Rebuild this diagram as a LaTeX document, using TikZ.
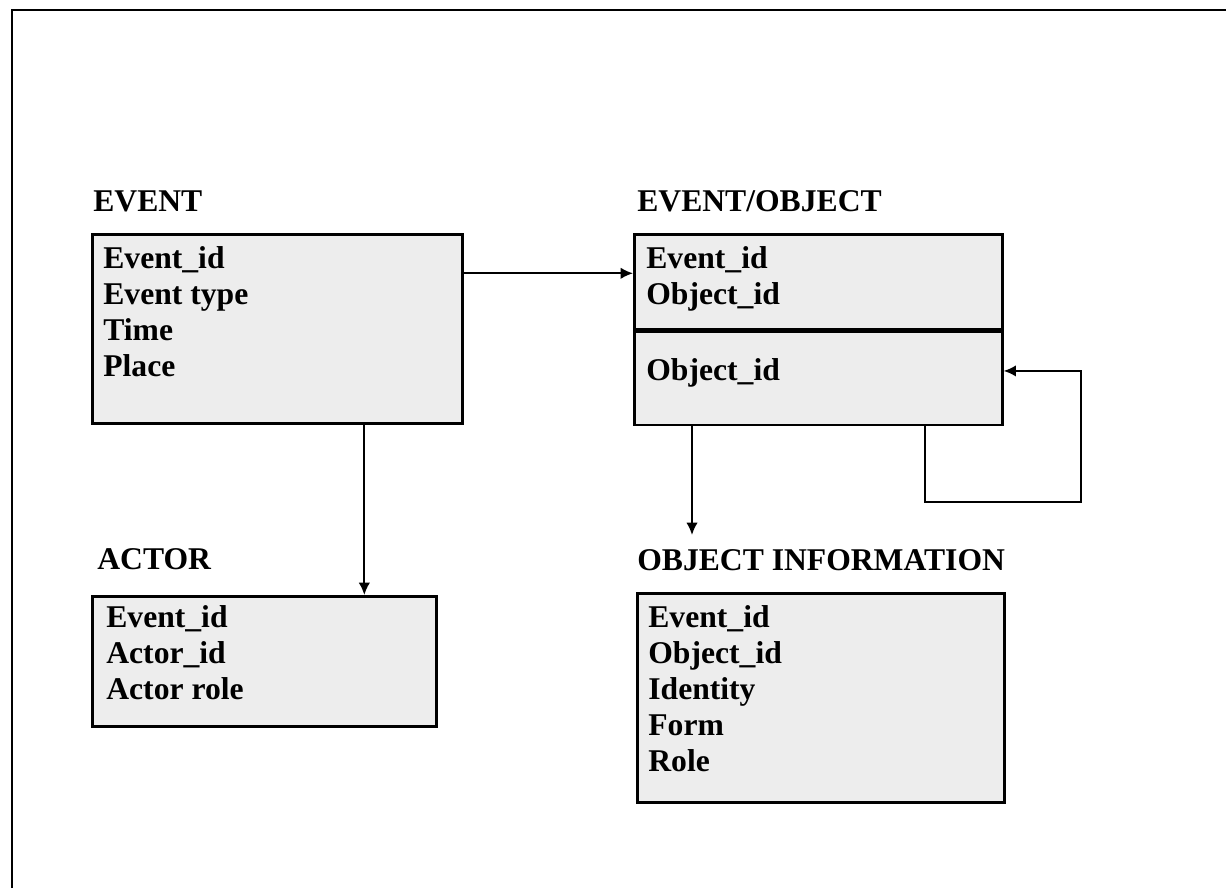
\documentclass[tikz,border=0pt]{standalone}
\usepackage{fontspec}
\setmainfont{Liberation Serif}
\usetikzlibrary{arrows.meta,positioning,calc}

\tikzset{
    tablebox/.style={draw, line width=1.5pt, fill=black!7, anchor=north west, inner sep=0pt},
    tabletitle/.style={anchor=base west, inner sep=0pt, font=\bfseries\fontsize{18}{20.5}\selectfont},
    tablerows/.style={anchor=north west, inner sep=0pt, align=left, font=\bfseries\fontsize{18}{20.5}\selectfont},
    link/.style={-{Latex[length=7pt,width=6.5pt]}, line width=1.1pt}
}

\begin{document}
\begin{tikzpicture}
    \useasboundingbox (0,0) rectangle (24.52,17.76);

    % Frame
    \draw[line width=1.2pt] (0.24,0) |- (24.52,17.56);

    % Titles
    \node[tabletitle] (eventname) at (1.86,13.52) {EVENT};
    \node[tabletitle] (evobjname) at (12.74,13.52) {EVENT/OBJECT};
    \node[tabletitle] (actorname) at (1.94,6.36) {ACTOR};
    \node[tabletitle] (infoname) at (12.74,6.34) {OBJECT INFORMATION};

    % Tables
    \node[tablebox, minimum width=7.40cm, minimum height=3.78cm] (event) at (1.82,13.10) {};
    \node[tablebox, minimum width=7.36cm, minimum height=1.90cm] (evobjtop) at (12.66,13.10) {};
    \node[tablebox, below=0pt of evobjtop, minimum width=7.36cm, minimum height=1.86cm] (evobjbot) {};
    \node[tablebox, minimum width=6.88cm, minimum height=2.60cm] (actor) at (1.82,5.86) {};
    \node[tablebox, minimum width=7.34cm, minimum height=4.18cm] (info) at (12.72,5.92) {};

    % Rows
    \node[tablerows] (eventrows) at ([shift={(0.24,-0.255)}]event.north west) {Event\_id\\Event type\\Time\\Place};
    \node[tablerows] (evobjrows) at ([shift={(0.26,-0.255)}]evobjtop.north west) {Event\_id\\Object\_id};
    \node[tablerows] (evobjkey) at ([shift={(0.26,-0.555)}]evobjbot.north west) {Object\_id};
    \node[tablerows] (actorrows) at ([shift={(0.30,-0.195)}]actor.north west) {Event\_id\\Actor\_id\\Actor role};
    \node[tablerows] (inforows) at ([shift={(0.24,-0.255)}]info.north west) {Event\_id\\Object\_id\\Identity\\Form\\Role};

    % Free end above the object information title
    \coordinate (infoin) at (13.84,7.06);

    % Links
    \draw[link] ([yshift=0.17cm]event.east |- evobjtop.west) -- ([yshift=0.17cm]evobjtop.west);
    \draw[link] ([xshift=1.74cm]event.south) -- ([xshift=1.74cm]event.south |- actor.north);
    \draw[link] (evobjbot.south -| infoin) -- (infoin);
    \draw[link] ([xshift=2.14cm]evobjbot.south) -- ++(0,-1.52) -- ++(3.12,0) |- ([yshift=0.15cm]evobjbot.east);
\end{tikzpicture}
\end{document}
